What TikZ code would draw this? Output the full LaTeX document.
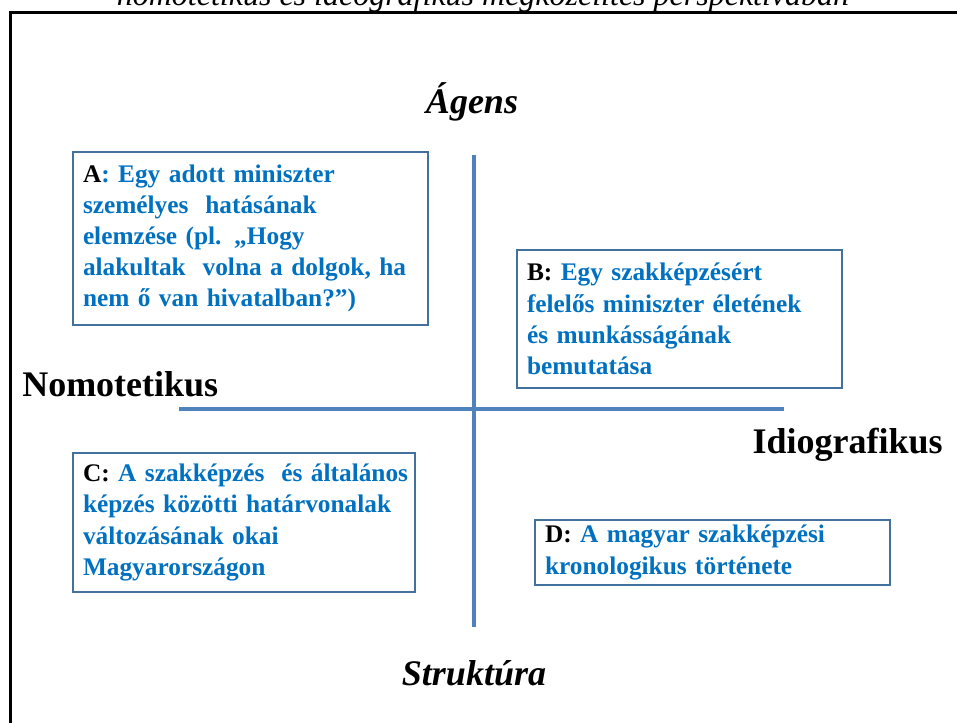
\documentclass[tikz,border=0pt]{standalone}
\usepackage{fontspec}
\setmainfont{Liberation Serif}
\usetikzlibrary{positioning}
\definecolor{textblue}{RGB}{0,112,192}
\definecolor{boxblue}{RGB}{65,113,156}
\definecolor{axisblue}{RGB}{79,129,189}
\tikzset{x=0.75pt,y=-0.75pt}
\tikzset{quad/.style={draw=boxblue,line width=1.1pt,align=left,inner xsep=7.5pt,inner ysep=0pt,
        font=\fontsize{19}{23.4}\selectfont\bfseries,text=textblue}}
\tikzset{axis/.style={draw=axisblue,line width=3pt}}
\tikzset{pole/.style={font=\fontsize{27}{32}\selectfont\bfseries,inner sep=0pt}}
\tikzset{poleit/.style={font=\fontsize{27}{32}\selectfont\bfseries\itshape,inner sep=0pt}}

\begin{document}
\begin{tikzpicture}
    \useasboundingbox (0,0) rectangle (957,722);
    % title, cut by the page
    \node[font=\fontsize{24}{28}\selectfont\itshape,anchor=base] (title) at (483,5)
        {nomotetikus és ideografikus megközelítés perspektívában};
    \draw[line width=2.25pt] (10,740) -- (10,12) -- (970,12);

    % axes
    \coordinate (top) at (474,155);
    \coordinate (bottom) at (474,627);
    \coordinate (left) at (179,409);
    \coordinate (right) at (784,409);
    \draw[axis] (top) -- (bottom);
    \draw[axis] (left) -- (right);

    \node[poleit,anchor=base] (agens) at (472,113) {Ágens};
    \node[poleit,anchor=base] (struktura) at (474,685) {Struktúra};
    \node[pole,anchor=base west] (nomo) at (22,396) {Nomotetikus};
    \node[pole,anchor=base east] (idio) at (943,453) {Idiografikus};

    % quadrants
    \node[quad,text width=251.25pt,minimum height=129.75pt] (qa) at (250.5,238.5)
        {\textcolor{black}{A}: Egy adott miniszter\\
        személyes~ hatásának\\
        elemzése (pl. „Hogy\\
        \mbox{alakultak~ volna a dolgok, ha}\\
        nem ő van hivatalban?”)};
    \node[quad,text width=228.75pt,minimum height=103.5pt] (qb) at (679.5,319)
        {\textcolor{black}{B:} Egy szakképzésért\\
        felelős miniszter életének\\
        és munkásságának\\
        bemutatása};
    \node[quad,text width=241.5pt,minimum height=104.25pt] (qc) at (244,522.5)
        {\mbox{\textcolor{black}{C:} A szakképzés~ és általános}\\
        \mbox{képzés közötti határvonalak}\\
        változásának okai\\
        Magyarországon};
    \node[quad,text width=251.25pt,minimum height=48.75pt] (qd) at (712.5,552.5)
        {\textcolor{black}{D:} A magyar szakképzési\\
        kronologikus története};
\end{tikzpicture}
\end{document}
